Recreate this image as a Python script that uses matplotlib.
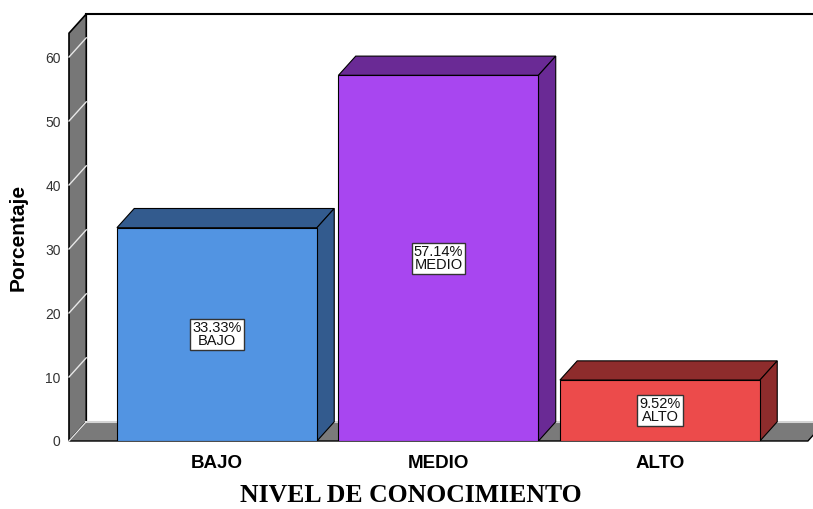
import matplotlib.pyplot as plt
from matplotlib.patches import Polygon, Rectangle

categorias = ['BAJO', 'MEDIO', 'ALTO']
porcentajes = [33.33, 57.14, 9.52]
frente = ['#5294E2', '#A846F0', '#EC4B4B']
lados = ['#335B8E', '#6A2A95', '#8E2C2C']
yticks = [0, 10, 20, 30, 40, 50, 60]

plt.rcParams['font.family'] = ['Liberation Sans', 'DejaVu Sans']

fig = plt.figure(figsize=(8.13, 5.09), dpi=100)
ax = fig.add_axes([69 / 813, 68 / 509, 744 / 813, 427 / 509])

x0, x1 = -0.668, 2.691
ytop = 66.72
ax.set_xlim(x0, x1)
ax.set_ylim(0, ytop)

# profundidad del efecto 3D (en unidades de datos)
dx, dy = 0.078, 3.0
w = 0.903

# pared izquierda
pared_top = ytop - dy
ax.add_patch(Polygon([(x0, 0), (x0 + dx, dy), (x0 + dx, ytop), (x0, pared_top)],
                     closed=True, facecolor='#777777', edgecolor='black', lw=1.2,
                     clip_on=False, zorder=1))
for t in yticks:
    ax.plot([x0, x0 + dx], [t, t + dy], color='#e8e8e8', lw=1, clip_on=False, zorder=2)

# piso
xr = 2.668
ax.add_patch(Polygon([(x0, 0), (xr, 0), (xr + dx, dy), (x0 + dx, dy)],
                     closed=True, facecolor='#7a7a7a', edgecolor='black', lw=1.0,
                     clip_on=False, zorder=1))
ax.plot([x0 + dx, x1], [dy, dy], color='#d4d4d4', lw=1.5, zorder=1.5)

# borde superior del panel trasero
ax.plot([x0 + dx, x1], [ytop, ytop], color='black', lw=1.5, clip_on=False, zorder=2)

# barras 3D
for i, (cat, v) in enumerate(zip(categorias, porcentajes)):
    l, r = i - w / 2, i + w / 2
    ax.add_patch(Polygon([(l, v), (r, v), (r + dx, v + dy), (l + dx, v + dy)],
                         closed=True, facecolor=lados[i], edgecolor='black', lw=0.8, zorder=3))
    ax.add_patch(Polygon([(r, 0), (r + dx, dy), (r + dx, v + dy), (r, v)],
                         closed=True, facecolor=lados[i], edgecolor='black', lw=0.8, zorder=3))
    ax.add_patch(Rectangle((l, 0), w, v, facecolor=frente[i], edgecolor='black',
                           lw=0.8, zorder=4))
    ax.text(i, v / 2, f'{v:.2f}%\n{cat}', ha='center', va='center', fontsize=10.5,
            linespacing=0.9, color='#111111', zorder=5,
            bbox=dict(boxstyle='square,pad=0.15', facecolor='white',
                      edgecolor='#333333', lw=1))

ax.set_yticks(yticks)
ax.set_yticklabels([str(t) for t in yticks], fontsize=10, color='#333333')
ax.set_xticks(range(len(categorias)))
ax.set_xticklabels(categorias, fontsize=13.5, fontweight='bold')
ax.tick_params(axis='y', length=0, pad=6)
ax.tick_params(axis='x', length=0, pad=10)
for s in ax.spines.values():
    s.set_visible(False)

fig.text(411 / 813, 1 - 496 / 509, 'NIVEL DE CONOCIMIENTO', ha='center', va='center',
         fontsize=18.5, fontweight='bold', family='Liberation Serif')
fig.text(18 / 813, 1 - 237 / 509, 'Porcentaje', ha='center', va='center',
         rotation=90, fontsize=15, fontweight='bold')

fig.savefig('out.png', dpi=100)
